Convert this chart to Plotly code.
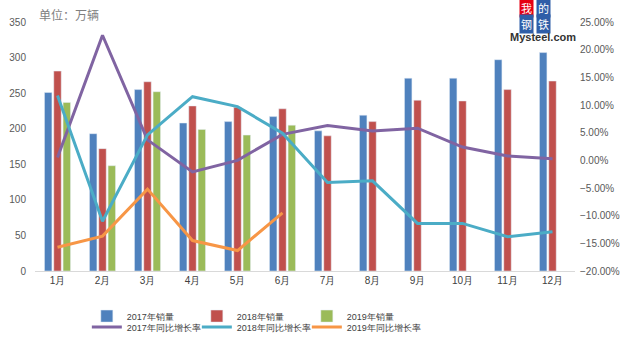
import plotly.graph_objects as go

months = ["1月", "2月", "3月", "4月", "5月", "6月", "7月", "8月", "9月", "10月", "11月", "12月"]
sales_2017 = [251, 193, 255, 208, 210, 217, 197, 219, 271, 271, 297, 307]
sales_2018 = [281, 172, 266, 232, 230, 228, 190, 210, 240, 239, 255, 267]
sales_2019 = [237, 148, 252, 199, 191, 205, None, None, None, None, None, None]
growth_2017 = [0.5, 22.6, 3.7, -2.1, 0.0, 4.7, 6.3, 5.3, 5.8, 2.4, 0.8, 0.3]
growth_2018 = [11.7, -11.0, 4.6, 11.5, 9.7, 4.9, -4.0, -3.7, -11.4, -11.4, -13.8, -12.9]
growth_2019 = [-15.7, -13.7, -5.2, -14.5, -16.3, -9.5, None, None, None, None, None, None]

g17 = [v / 100 if v is not None else None for v in growth_2017]
g18 = [v / 100 if v is not None else None for v in growth_2018]
g19 = [v / 100 if v is not None else None for v in growth_2019]

fig = go.Figure()
fig.add_trace(go.Bar(x=months, y=sales_2017, name="2017年销量", marker_color="#4F81BD", legend="legend"))
fig.add_trace(go.Bar(x=months, y=sales_2018, name="2018年销量", marker_color="#C0504D", legend="legend"))
fig.add_trace(go.Bar(x=months, y=sales_2019, name="2019年销量", marker_color="#9BBB59", legend="legend",
                     legendwidth=90))
fig.add_trace(go.Scatter(x=months, y=g17, name="2017年同比增长率", mode="lines", line=dict(color="#8064A2", width=3), yaxis="y2", legend="legend2"))
fig.add_trace(go.Scatter(x=months, y=g18, name="2018年同比增长率", mode="lines", line=dict(color="#4BACC6", width=3), yaxis="y2", legend="legend2"))
fig.add_trace(go.Scatter(x=months, y=g19, name="2019年同比增长率", mode="lines", line=dict(color="#F79646", width=3), yaxis="y2", legend="legend2",
                         legendwidth=100))

font_main = "Liberation Sans, Arial, sans-serif"
legend_common = dict(orientation="h", xanchor="left", yanchor="middle", entrywidth=65,
                     font=dict(size=9, color="#404040", family=font_main), bgcolor="rgba(0,0,0,0)",
                     itemwidth=30, tracegroupgap=0)

fig.update_layout(
    width=633, height=342,
    margin=dict(l=35, r=58, t=22, b=71, autoexpand=False),
    paper_bgcolor="white", plot_bgcolor="white",
    barmode="group", bargap=0.38, bargroupgap=0.2,
    font=dict(family=font_main, size=10, color="#595959"),
    xaxis=dict(showgrid=False, showline=True, linecolor="#d9d9d9", linewidth=1,
               ticks="", tickfont=dict(size=10, color="#404040"), fixedrange=True),
    yaxis=dict(range=[0, 350], dtick=50, showgrid=False, zeroline=False, showline=False,
               tickfont=dict(size=10, color="#595959"), ticklabelstandoff=8),
    yaxis2=dict(range=[-0.20, 0.25], dtick=0.05, tickformat=".2%", overlaying="y", side="right",
                showgrid=False, zeroline=False, showline=False,
                tickfont=dict(size=10, color="#595959"), ticklabelstandoff=4),
    legend=dict(x=0.096, y=-0.181, **legend_common),
    legend2=dict(x=0.096, y=-0.225, **legend_common),
    showlegend=True,
)

fig.add_annotation(text="单位：万辆", xref="paper", yref="paper", x=0.004, y=1.03, xanchor="left",
                   yanchor="middle", showarrow=False, font=dict(size=12, color="#7f7f7f", family="Noto Sans CJK SC"))

logo = [("我", 0.911, 1.056, "#E60012"), ("的", 0.941, 1.056, "#2F5EA8"),
        ("钢", 0.911, 0.990, "#2F5EA8"), ("铁", 0.941, 0.990, "#2F5EA8")]
for ch, lx, ly, col in logo:
    fig.add_annotation(text=ch, xref="paper", yref="paper", x=lx, y=ly, xanchor="center", yanchor="middle",
                       showarrow=False, bgcolor=col, borderpad=1,
                       font=dict(size=11, color="white", family="Noto Sans CJK SC"))
fig.add_annotation(text="<b>Mysteel.com</b>", xref="paper", yref="paper", x=0.941, y=0.940,
                   xanchor="center", yanchor="middle", showarrow=False,
                   font=dict(size=11, color="#333333", family=font_main))

fig.write_html("out.html")
